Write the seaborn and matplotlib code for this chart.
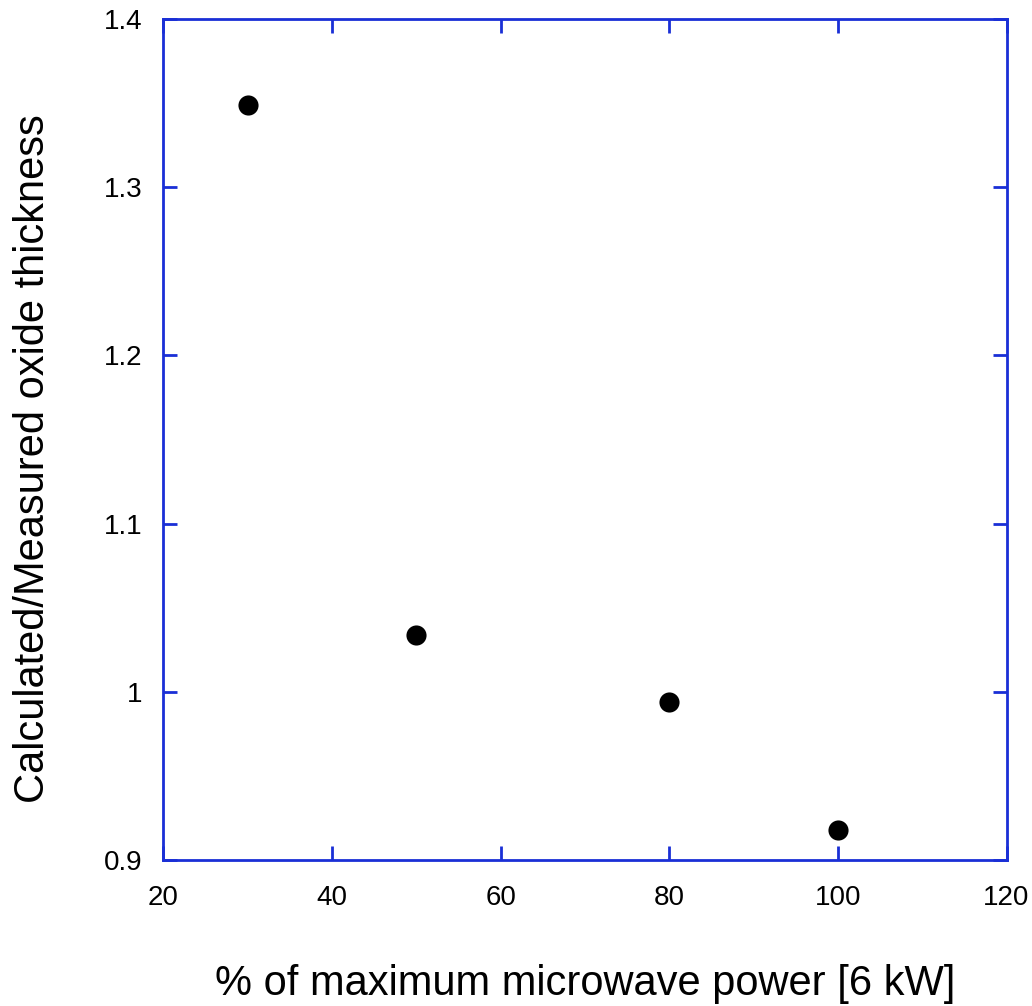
import matplotlib
matplotlib.use("Agg")
import matplotlib.pyplot as plt
import seaborn as sns
import pandas as pd

# Microwave power (% of 6 kW maximum) vs calculated/measured oxide thickness ratio
power_pct = [30, 50, 80, 100]
thickness_ratio = [1.349, 1.034, 0.994, 0.918]

x_ticks = [20, 40, 60, 80, 100, 120]
y_ticks = [0.9, 1.0, 1.1, 1.2, 1.3, 1.4]
y_tick_labels = ["0.9", "1", "1.1", "1.2", "1.3", "1.4"]

df = pd.DataFrame({"power": power_pct, "ratio": thickness_ratio})

sns.set_theme(style="white")
plt.rcParams["font.family"] = ["Liberation Sans", "DejaVu Sans"]

axis_blue = "#1a2fd6"

fig = plt.figure(figsize=(10.32, 10.06), dpi=100)
ax = fig.add_axes([0.1584, 0.1451, 0.8169, 0.8360])

sns.scatterplot(data=df, x="power", y="ratio", ax=ax, color="black",
                s=210, edgecolor="black", linewidth=0, legend=False, zorder=3)

ax.set_xlim(20, 120)
ax.set_ylim(0.9, 1.4)
ax.set_xticks(x_ticks)
ax.set_xticklabels([str(t) for t in x_ticks])
ax.set_yticks(y_ticks)
ax.set_yticklabels(y_tick_labels)

for spine in ax.spines.values():
    spine.set_color(axis_blue)
    spine.set_linewidth(2)

ax.tick_params(axis="both", which="both", direction="in", length=10, width=2,
               color=axis_blue, labelcolor="black", labelsize=20,
               top=True, right=True, bottom=True, left=True)
ax.tick_params(axis="x", pad=18)
ax.tick_params(axis="y", pad=15)

ax.set_xlabel("% of maximum microwave power [6 kW]", fontsize=30,
              color="black", labelpad=38)
ax.set_ylabel("Calculated/Measured oxide thickness", fontsize=30,
              color="black", labelpad=37)
ax.yaxis.label.set_y(0.477)

fig.savefig("out.png", dpi=100)
